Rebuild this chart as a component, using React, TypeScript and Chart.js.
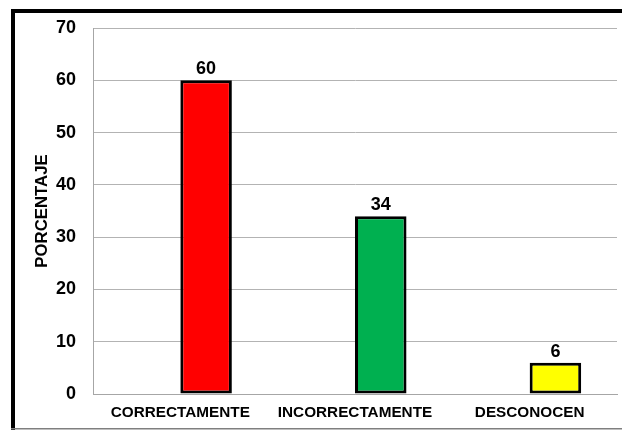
import React, { useEffect, useRef } from "react";
import { Chart, registerables } from "chart.js";

Chart.register(...registerables);

const categories = ["CORRECTAMENTE", "INCORRECTAMENTE", "DESCONOCEN"];
const porcentajes = [60, 34, 6];
const barColors = ["#FF0000", "#00B050", "#FFFF00"];
const emptySeries = [null, null, null];
const yTicks = [0, 10, 20, 30, 40, 50, 60, 70];

const FONT = "'Liberation Sans', Arial, sans-serif";

// White background plus the frame: heavy black left and top edges, thin grey bottom edge
const framePlugin = {
  id: "frame",
  beforeDraw(chart: any) {
    const { ctx, width, height } = chart;
    ctx.save();
    ctx.fillStyle = "#ffffff";
    ctx.fillRect(0, 0, width, height);
    ctx.fillStyle = "#000000";
    ctx.fillRect(11, 9, 4, height - 9);
    ctx.fillRect(11, 9, width - 11, 4);
    ctx.fillStyle = "#7f7f7f";
    ctx.fillRect(11, 428, width - 11, 1.5);
    ctx.restore();
  },
};

// Value labels above each bar
const valueLabels = {
  id: "valueLabels",
  afterDatasetsDraw(chart: any) {
    const { ctx } = chart;
    const meta = chart.getDatasetMeta(1);
    ctx.save();
    ctx.font = `bold 18px ${FONT}`;
    ctx.fillStyle = "#000000";
    ctx.textAlign = "center";
    ctx.textBaseline = "alphabetic";
    meta.data.forEach((el: any, i: number) => {
      ctx.fillText(String(porcentajes[i]), el.x, el.y - 6);
    });
    ctx.restore();
  },
};

export default function App() {
  const ref = useRef<HTMLCanvasElement>(null);

  useEffect(() => {
    document.body.style.margin = "0";
    const chart = new Chart(ref.current!, {
      type: "bar",
      data: {
        labels: categories,
        datasets: [
          {
            label: "",
            data: emptySeries as any,
            categoryPercentage: 0.59,
            barPercentage: 1,
          },
          {
            label: "PORCENTAJE",
            data: porcentajes,
            backgroundColor: barColors,
            borderColor: "#000000",
            borderWidth: 3,
            borderSkipped: false,
            categoryPercentage: 0.59,
            barPercentage: 1,
          },
        ],
      },
      options: {
        responsive: false,
        animation: false,
        layout: { padding: { top: 28, right: 5, left: 0, bottom: 0 } },
        plugins: {
          legend: { display: false },
          tooltip: { enabled: false },
          title: { display: false },
        },
        scales: {
          x: {
            grid: { display: false, drawTicks: false },
            border: { display: true, color: "#a6a6a6", width: 1 },
            ticks: {
              color: "#000000",
              padding: 10,
              maxRotation: 0,
              autoSkip: false,
              font: { family: FONT, size: 15.3, weight: "bold" },
            },
            afterFit(scale: any) {
              scale.height = 36;
            },
          },
          y: {
            min: 0,
            max: 70,
            afterBuildTicks(scale: any) {
              scale.ticks = yTicks.map((v) => ({ value: v }));
            },
            grid: { color: "#b3b3b3", lineWidth: 1, drawTicks: false },
            border: { display: true, color: "#a6a6a6", width: 1 },
            ticks: {
              color: "#000000",
              padding: 17,
              font: { family: FONT, size: 18, weight: "bold" },
            },
            title: {
              display: true,
              text: "PORCENTAJE",
              color: "#000000",
              padding: { top: 32, bottom: 0 },
              font: { family: FONT, size: 16.8, weight: "bold" },
            },
            afterFit(scale: any) {
              scale.width = 93;
            },
          },
        },
      },
      plugins: [framePlugin, valueLabels],
    });
    return () => chart.destroy();
  }, []);

  return <canvas ref={ref} width={622} height={430} style={{ display: "block" }} />;
}
